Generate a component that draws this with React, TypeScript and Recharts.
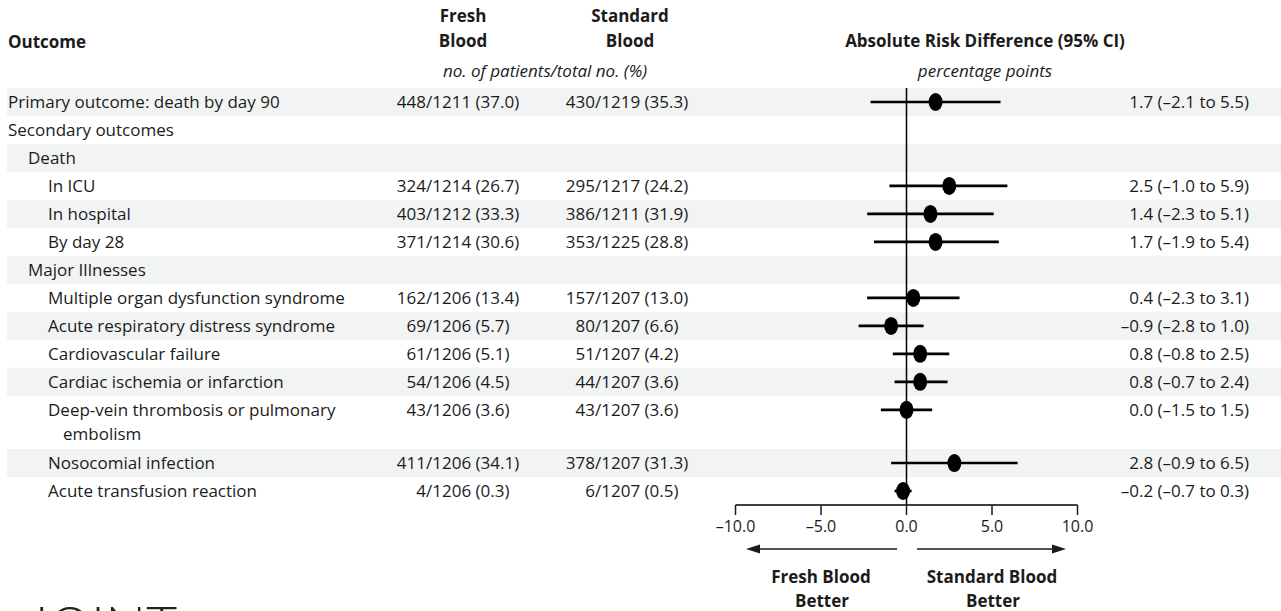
import React from "react";
import {
  ScatterChart,
  Scatter,
  XAxis,
  YAxis,
  ErrorBar,
  ReferenceArea,
  ReferenceLine,
} from "recharts";

const FONT = "'Open Sans', 'Noto Sans', sans-serif";
const INK = "#1b1b1b";
const BAND = "#f2f4f4";

// ---- table rows, top to bottom ----
const outcomeLabels = [
  "Primary outcome: death by day 90",
  "Secondary outcomes",
  "Death",
  "In ICU",
  "In hospital",
  "By day 28",
  "Major Illnesses",
  "Multiple organ dysfunction syndrome",
  "Acute respiratory distress syndrome",
  "Cardiovascular failure",
  "Cardiac ischemia or infarction",
  "Deep-vein thrombosis or pulmonary|embolism",
  "Nosocomial infection",
  "Acute transfusion reaction",
];
const indentLevels = [0, 0, 1, 2, 2, 2, 1, 2, 2, 2, 2, 2, 2, 2];
const rowSpans = [1, 1, 1, 1, 1, 1, 1, 1, 1, 1, 1, 1.9, 1, 1];
const shadedRows = [true, false, true, false, true, false, true, false, true, false, true, false, true, false];

// Fresh blood: events / total (%)
const freshEvents = [448, null, null, 324, 403, 371, null, 162, 69, 61, 54, 43, 411, 4];
const freshTotals = [1211, null, null, 1214, 1212, 1214, null, 1206, 1206, 1206, 1206, 1206, 1206, 1206];
const freshPct = [37.0, null, null, 26.7, 33.3, 30.6, null, 13.4, 5.7, 5.1, 4.5, 3.6, 34.1, 0.3];

// Standard blood: events / total (%)
const stdEvents = [430, null, null, 295, 386, 353, null, 157, 80, 51, 44, 43, 378, 6];
const stdTotals = [1219, null, null, 1217, 1211, 1225, null, 1207, 1207, 1207, 1207, 1207, 1207, 1207];
const stdPct = [35.3, null, null, 24.2, 31.9, 28.8, null, 13.0, 6.6, 4.2, 3.6, 3.6, 31.3, 0.5];

// Absolute risk difference, percentage points (95% CI)
const riskDiff = [1.7, null, null, 2.5, 1.4, 1.7, null, 0.4, -0.9, 0.8, 0.8, 0.0, 2.8, -0.2];
const ciLow = [-2.1, null, null, -1.0, -2.3, -1.9, null, -2.3, -2.8, -0.8, -0.7, -1.5, -0.9, -0.7];
const ciHigh = [5.5, null, null, 5.9, 5.1, 5.4, null, 3.1, 1.0, 2.5, 2.4, 1.5, 6.5, 0.3];

const xTicks = [-10, -5, 0, 5, 10];

// ---- layout ----
const W = 1281;
const H = 611;
const PLOT_LEFT = 7;
const PLOT_TOP = 88;
const ZERO_PX = 906.5;
const PX_PER_UNIT = 17.1;
const X_MIN = (PLOT_LEFT - ZERO_PX) / PX_PER_UNIT;
const X_MAX = (W - ZERO_PX) / PX_PER_UNIT;

const rowStarts: number[] = [];
rowSpans.reduce((acc, s, i) => {
  rowStarts[i] = acc;
  return acc + s;
}, 0);
const Y_MAX = rowSpans.reduce((a, b) => a + b, 0);
const rowMids = rowStarts.map((s) => s + 0.5);

const signed = (v: number) => (v < 0 ? "\u2013" + Math.abs(v).toFixed(1) : v.toFixed(1));

const points = riskDiff
  .map((d, i) =>
    d === null
      ? null
      : { x: d, y: rowMids[i], err: [d - (ciLow[i] as number), (ciHigh[i] as number) - d] }
  )
  .filter(Boolean) as { x: number; y: number; err: number[] }[];

// one anchor per table row, placed on the left edge of the plot
const rowAnchors = rowMids.map((m, i) => ({ x: X_MIN, y: m, row: i }));

const SLASH_FRESH = 426;
const SLASH_STD = 595;
const CI_RIGHT = 1249;
const INDENT = [8, 28, 48];

const txt = { fontFamily: FONT, fontSize: 17, fill: INK } as const;

function RowText(props: any) {
  const { cy, payload } = props;
  const i = payload.row as number;
  const y = cy;
  const lines = outcomeLabels[i].split("|");
  const x0 = INDENT[indentLevels[i]];
  const fe = freshEvents[i];
  const se = stdEvents[i];
  const d = riskDiff[i];
  return (
    <g>
      {lines.map((ln, k) => (
        <text key={k} x={x0 + (k > 0 ? 15 : 0)} y={y + k * 24} dy="0.35em" {...txt}>
          {ln}
        </text>
      ))}
      {fe !== null && (
        <>
          <text x={SLASH_FRESH} y={y} dy="0.35em" textAnchor="end" {...txt}>
            {fe}
          </text>
          <text x={SLASH_FRESH} y={y} dy="0.35em" {...txt}>
            {`/${freshTotals[i]} (${(freshPct[i] as number).toFixed(1)})`}
          </text>
          <text x={SLASH_STD} y={y} dy="0.35em" textAnchor="end" {...txt}>
            {se}
          </text>
          <text x={SLASH_STD} y={y} dy="0.35em" {...txt}>
            {`/${stdTotals[i]} (${(stdPct[i] as number).toFixed(1)})`}
          </text>
        </>
      )}
      {d !== null && (
        <text x={CI_RIGHT} y={y} dy="0.35em" textAnchor="end" {...txt}>
          {`${signed(d)} (${signed(ciLow[i] as number)} to ${signed(ciHigh[i] as number)})`}
        </text>
      )}
    </g>
  );
}

const Dot = (p: any) => <ellipse cx={p.cx} cy={p.cy} rx={7} ry={9} fill="#000" />;

function Overlay() {
  const bold = { ...txt, fontWeight: 700 } as const;
  const ital = { ...txt, fontStyle: "italic" } as const;
  return (
    <svg
      width={W}
      height={H}
      style={{ position: "absolute", left: 0, top: 0, pointerEvents: "none" }}
    >
      <text x={8} y={48} {...bold}>Outcome</text>
      <text x={463} y={22} textAnchor="middle" {...bold}>Fresh</text>
      <text x={463} y={47} textAnchor="middle" {...bold}>Blood</text>
      <text x={630} y={22} textAnchor="middle" {...bold}>Standard</text>
      <text x={630} y={47} textAnchor="middle" {...bold}>Blood</text>
      <text x={545} y={77} textAnchor="middle" {...ital}>no. of patients/total no. (%)</text>
      <text x={985} y={47} textAnchor="middle" {...bold}>Absolute Risk Difference (95% CI)</text>
      <text x={985} y={77} textAnchor="middle" {...ital}>percentage points</text>

      <line x1={897} y1={549} x2={756} y2={549} stroke={INK} strokeWidth={1.6} />
      <polygon points="746,549 760,544.5 760,553.5" fill={INK} />
      <line x1={917} y1={549} x2={1056} y2={549} stroke={INK} strokeWidth={1.6} />
      <polygon points="1066,549 1052,544.5 1052,553.5" fill={INK} />

      <text x={821} y={583} textAnchor="middle" {...bold}>Fresh Blood</text>
      <text x={822} y={607} textAnchor="middle" {...bold}>Better</text>
      <text x={992} y={583} textAnchor="middle" {...bold}>Standard Blood</text>
      <text x={993} y={607} textAnchor="middle" {...bold}>Better</text>

      <text x={26} y={645} fontFamily="Lato, sans-serif" fontSize={54} fontWeight={300} fill="#222">
        JOINT
      </text>
    </svg>
  );
}

export default function App() {
  return (
    <div
      style={{
        position: "absolute",
        left: 0,
        top: 0,
        width: W,
        height: H,
        overflow: "hidden",
        background: "#fff",
      }}
    >
      <ScatterChart
        width={W}
        height={H}
        margin={{ top: PLOT_TOP, right: 0, bottom: 76, left: PLOT_LEFT }}
      >
        {rowStarts.map((s, i) =>
          shadedRows[i] ? (
            <ReferenceArea
              key={i}
              x1={X_MIN}
              x2={X_MAX}
              y1={s}
              y2={s + rowSpans[i]}
              fill={BAND}
              fillOpacity={1}
              stroke="none"
            />
          ) : null
        )}
        <XAxis
          type="number"
          dataKey="x"
          domain={[X_MIN, X_MAX]}
          allowDataOverflow
          ticks={xTicks}
          interval={0}
          axisLine={false}
          tickSize={10}
          tickMargin={6}
          tickLine={{ stroke: INK, strokeWidth: 1.5 }}
          tick={{ fontSize: 16, fill: INK, fontFamily: FONT }}
          tickFormatter={signed}
          height={30}
        />
        <YAxis
          type="number"
          dataKey="y"
          domain={[0, Y_MAX]}
          allowDataOverflow
          reversed
          hide
        />
        <ReferenceLine x={0} stroke="#000" strokeWidth={1.5} />
        <ReferenceLine
          segment={[
            { x: -10, y: Y_MAX },
            { x: 10, y: Y_MAX },
          ]}
          stroke="#000"
          strokeWidth={1.5}
        />
        <Scatter data={rowAnchors} shape={RowText} isAnimationActive={false} />
        <Scatter data={points} shape={Dot} isAnimationActive={false}>
          <ErrorBar dataKey="err" direction="x" width={0} stroke="#000" strokeWidth={2.7} />
        </Scatter>
      </ScatterChart>
      <Overlay />
    </div>
  );
}
